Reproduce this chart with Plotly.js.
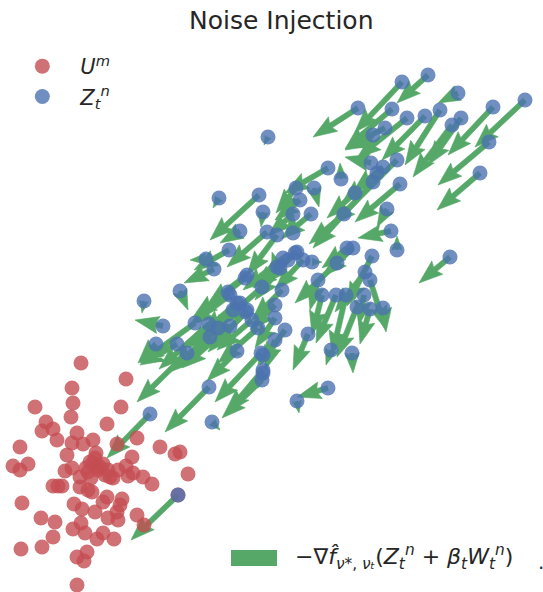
<!DOCTYPE html>
<html>
<head>
<meta charset="utf-8">
<script src="https://cdn.plot.ly/plotly-3.0.1.min.js"></script>
<style>html,body{margin:0;padding:0;background:#fff;}#chart{width:543px;height:592px;}</style>
</head>
<body>
<div id="chart"></div>
<script>
// ---- data (y grows downward) ----
const seriesNames = ['<i>U</i><sup><i>m</i></sup>', '<i>Z</i><sub><i>t</i></sub><sup><i>n</i></sup>'];

const redX = [81,126,72,35,73,121,71,46,107,42,53,57,77,20,93,83,72,137,117,160,180,175,67,96,132,28,13,20,93,100,97,65,72,126,133,143,152,188,80,110,113,128,53,62,80,88,92,22,107,103,74,122,120,82,95,117,178,41,55,137,108,118,144,81,73,85,103,53,97,114,21,42,87,77,84,77,90,98,103,88,95,105,58,86,91,108,118];
const redY = [363,379,388,407,403,407,417,422,424,431,429,440,433,447,440,444,443,438,444,447,452,454,455,453,457,464,466,470,463,467,467,471,468,466,473,477,484,474,477,477,478,476,486,486,487,490,492,503,497,502,504,499,505,509,512,512,495,518,522,515,518,520,525,523,529,533,533,537,539,539,549,547,552,557,561,585,462,470,464,472,458,475,486,468,478,470,470];

const blueX = [428,402,458,493,525,489,480,358,392,407,425,440,452,461,373,385,268,328,341,371,383,397,377,373,400,355,314,296,300,311,293,259,263,344,387,391,397,450,347,353,372,267,277,297,283,337,312,219,240,293,229,206,214,247,245,262,277,180,144,163,156,195,209,218,210,230,237,230,233,246,252,258,177,187,237,261,263,262,209,150,212,178,282,275,275,285,308,275,331,352,328,297,322,336,346,364,357,370,383,365,370,318,263,263,240,247,228,288,295,280,303];
const blueY = [75,82,93,107,100,142,173,108,109,118,116,110,125,118,135,128,137,168,179,163,167,160,173,182,184,193,188,188,200,214,214,195,212,214,209,231,250,257,248,248,256,232,235,252,258,263,262,198,231,233,250,259,269,275,278,287,267,291,301,326,344,323,324,328,337,326,303,295,310,312,320,328,344,353,351,353,370,380,387,414,422,495,290,305,318,330,334,340,350,353,388,401,295,295,295,295,307,309,308,272,280,280,355,373,303,310,292,260,253,268,260];
const arrowDX = [-31,-47,-20,-45,-50,-51,-43,-45,-47,-50,-43,-35,-39,-33,-28,-35,-4,-43,-1,-26,-30,-65,-35,-60,-45,-28,5,-20,-25,-30,-25,-49,-2,-35,-10,-33,0,-31,-25,-30,-25,-40,-30,-38,-40,-42,10,-6,-20,-3,-35,-16,-30,-40,-37,-42,-5,8,-2,-28,-18,-55,-50,-45,-40,-48,-35,-40,-45,-38,-35,-40,-37,-50,-30,-46,-36,-40,-44,-43,8,-47,-30,-25,-20,-25,-15,-10,-5,1,-31,2,-10,-20,-14,-5,-20,-10,3,-30,16,-8,-5,-5,-30,-35,-35,-35,-30,-25,-28];
const arrowDY = [28,50,10,48,47,43,37,29,40,40,44,55,52,47,15,17,8,25,-16,-6,25,65,30,66,38,25,19,25,20,25,22,45,15,30,18,7,-14,26,20,28,50,35,40,30,32,40,0,10,12,-18,20,1,14,30,29,38,-15,19,12,-6,19,40,45,40,35,42,30,30,38,40,30,35,21,49,30,49,43,38,45,44,8,45,30,25,30,35,36,30,15,20,9,12,40,48,60,30,50,35,24,40,50,30,10,15,35,38,25,28,30,32,30];

// ---- quiver-style arrow polygons built from the data ----
function quiverPolygons(px, py, dx, dy) {
  const w = 5.2, hw = 3.3, hl = 4.6, hal = 4.1;
  const xs = [], ys = [];
  for (let i = 0; i < px.length; i++) {
    const L = Math.hypot(dx[i], dy[i]);
    if (L === 0) continue;
    const ux = dx[i] / L, uy = dy[i] / L;
    const vx = -uy, vy = ux;
    let s = 1;
    if (L < hl * w) s = L / (hl * w);
    const sw = w * s / 2, hwid = hw * w * s / 2, hlen = hl * w * s, halen = hal * w * s;
    const pts = [
      [0, -sw], [L - halen, -sw], [L - hlen, -hwid], [L, 0],
      [L - hlen, hwid], [L - halen, sw], [0, sw]
    ];
    for (const [a, b] of pts) {
      xs.push(px[i] + a * ux + b * vx);
      ys.push(py[i] + a * uy + b * vy);
    }
    xs.push(null); ys.push(null);
  }
  return {xs, ys};
}

const poly = quiverPolygons(blueX, blueY, arrowDX, arrowDY);

const traces = [
  {
    type: 'scatter', mode: 'lines', x: poly.xs, y: poly.ys,
    fill: 'toself', fillcolor: '#55A868', line: {width: 0.6, color: '#55A868'},
    showlegend: false, hoverinfo: 'skip'
  },
  {
    type: 'scatter', mode: 'markers', name: seriesNames[0], x: redX, y: redY,
    marker: {size: 15, color: 'rgba(196,78,82,0.8)', line: {width: 0}}
  },
  {
    type: 'scatter', mode: 'markers', name: seriesNames[1], x: blueX, y: blueY,
    marker: {size: 15, color: 'rgba(76,114,176,0.8)', line: {width: 0}}
  }
];

const font = 'DejaVu Sans, Liberation Sans, sans-serif';
const layout = {
  width: 543, height: 592,
  margin: {l: 0, r: 0, t: 0, b: 0},
  paper_bgcolor: '#ffffff', plot_bgcolor: '#ffffff',
  xaxis: {range: [0, 543], visible: false, fixedrange: true},
  yaxis: {range: [592, 0], visible: false, fixedrange: true},
  title: {
    text: 'Noise Injection',
    font: {family: font, size: 25, color: '#262626'},
    x: 0.518, xanchor: 'center', xref: 'paper',
    y: 1 - 20 / 592, yanchor: 'middle', yref: 'container'
  },
  showlegend: true,
  legend: {
    x: 0.008, xanchor: 'left', y: 1 - 46 / 592, yanchor: 'top',
    bgcolor: 'rgba(0,0,0,0)', borderwidth: 0,
    font: {family: font, size: 21, color: '#262626'},
    itemwidth: 66, tracegroupgap: 0
  },
  shapes: [{
    type: 'rect', xref: 'paper', yref: 'paper',
    x0: 231 / 543, x1: 277 / 543, y0: 1 - 566 / 592, y1: 1 - 550 / 592,
    fillcolor: '#55A868', line: {width: 0}
  }],
  annotations: [
    {
      xref: 'paper', yref: 'paper', x: 293 / 543, y: 1 - 557 / 592,
      xanchor: 'left', yanchor: 'middle', showarrow: false,
      font: {family: font, size: 22, color: '#262626'},
      text: '−∇<i>f̂</i><sub><i>ν</i>*, <i>ν</i><i>ₜ</i></sub>(<i>Z</i><sub><i>t</i></sub><sup><i>n</i></sup> + <i>β</i><sub><i>t</i></sub><i>W</i><sub><i>t</i></sub><sup><i>n</i></sup>)'
    },
    {
      xref: 'paper', yref: 'paper', x: 541 / 543, y: 1 - 562 / 592,
      xanchor: 'center', yanchor: 'middle', showarrow: false,
      font: {family: font, size: 20, color: '#262626'}, text: '.'
    }
  ]
};

Plotly.newPlot('chart', traces, layout, {staticPlot: true, displayModeBar: false});
</script>
</body>
</html>
